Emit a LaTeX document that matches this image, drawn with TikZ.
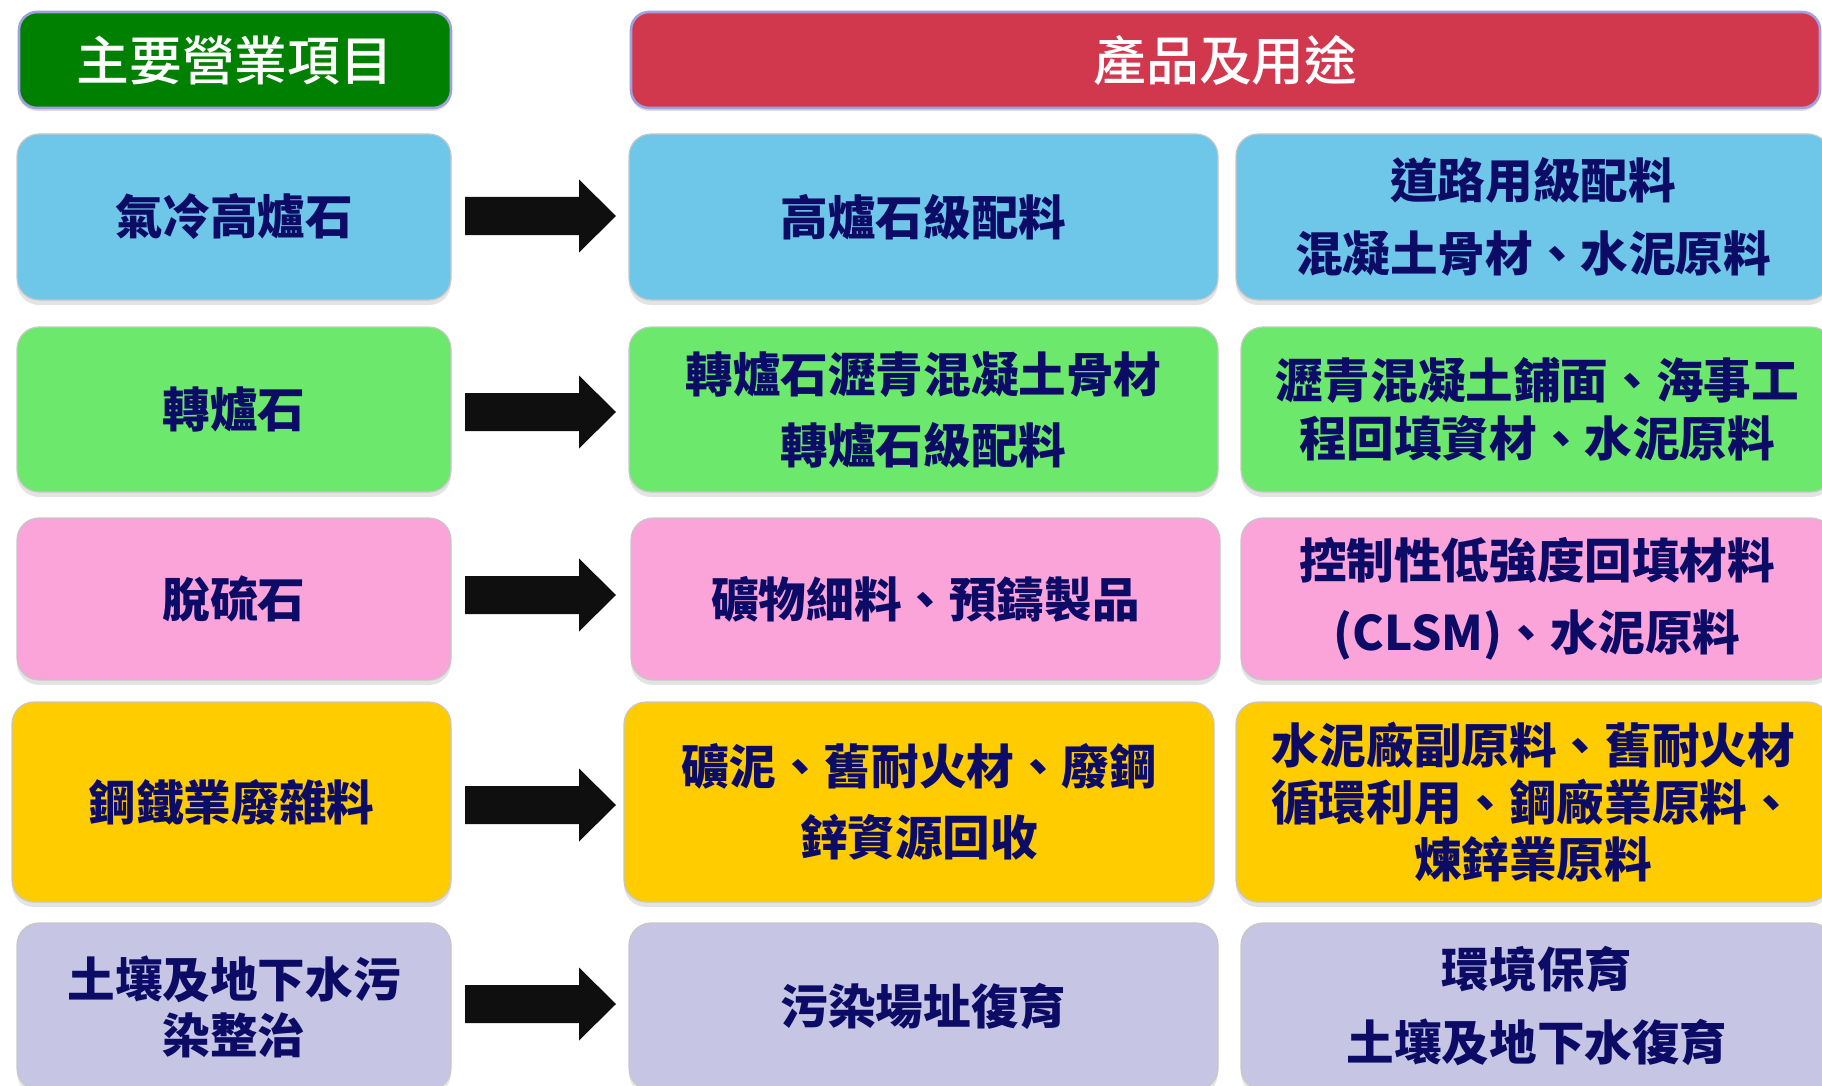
\documentclass[tikz,border=0pt]{standalone}
\usepackage{fontspec}
\newfontfamily\cjk{Noto Sans CJK TC}
\newfontfamily\cjkm{Noto Sans CJK TC Medium}
\usetikzlibrary{shadows,calc}
\definecolor{hgreen}{RGB}{0,128,0}
\definecolor{hred}{RGB}{209,56,78}
\definecolor{hborder}{RGB}{160,160,222}
\definecolor{cblue}{RGB}{110,198,232}
\definecolor{cgreen}{RGB}{108,232,108}
\definecolor{cpink}{RGB}{250,164,218}
\definecolor{cyellow}{RGB}{255,204,0}
\definecolor{clav}{RGB}{198,198,228}
\definecolor{navy}{RGB}{12,12,102}
\definecolor{arrowc}{RGB}{15,15,15}
\newcommand\blockarrow[2]{%
  \fill[arrowc] ($(#1)+(0,-19)$) -- ($(#2)+(-37,-19)$) -- ($(#2)+(-37,-36.5)$) -- (#2)
    -- ($(#2)+(-37,36.5)$) -- ($(#2)+(-37,19)$) -- ($(#1)+(0,19)$) -- cycle;}
\begin{document}
\begin{tikzpicture}[x=0.5pt,y=-0.5pt,
  hdr/.style={rounded corners=9pt, draw=hborder, line width=1.3pt, text=white,
    font={\cjkm\fontsize{26.4pt}{30pt}\selectfont},
    drop shadow={shadow xshift=0pt, shadow yshift=-1.5pt, opacity=0.25}},
  cbox/.style={rounded corners=11pt, draw=black!22, line width=0.6pt, text=navy, align=center,
    inner sep=0pt,
    drop shadow={shadow xshift=0pt, shadow yshift=-2.5pt, opacity=0.22}},
  txt/.style={font={\cjk\bfseries\fontsize{23.8pt}{#1}\selectfont}},
  txt/.default=36pt]
\useasboundingbox (0,0) rectangle (1822,1086);
\clip (0,0) rectangle (1822,1086);
% headers
\node[hdr, fill=hgreen, minimum width=216pt, minimum height=48pt] (h1) at (235,60) {主要營業項目};
\node[hdr, fill=hred, minimum width=594.5pt, minimum height=48pt] (h2) at (1225.5,60) {產品及用途};
% row 1
\node[cbox, txt, fill=cblue, minimum width=217pt, minimum height=83pt] (l1) at (234,217) {氣冷高爐石};
\node[cbox, txt, fill=cblue, minimum width=294.5pt, minimum height=83pt] (m1) at (923.5,217) {高爐石級配料};
\node[cbox, txt=36.5pt, fill=cblue, minimum width=297pt, minimum height=83pt] (r1) at (1533,217) {道路用級配料\\混凝土骨材、水泥原料};
% row 2
\node[cbox, txt, fill=cgreen, minimum width=217pt, minimum height=82.5pt] (l2) at (234,409.5) {轉爐石};
\node[cbox, txt=35.5pt, fill=cgreen, minimum width=294.5pt, minimum height=82.5pt] (m2) at (923.5,409.5) {轉爐石瀝青混凝土骨材\\轉爐石級配料};
\node[cbox, txt=29pt, fill=cgreen, minimum width=296pt, minimum height=82.5pt] (r2) at (1537,409.5) {瀝青混凝土鋪面、海事工\\程回填資材、水泥原料};
% row 3
\node[cbox, txt, fill=cpink, minimum width=217pt, minimum height=81pt] (l3) at (234,599) {脫硫石};
\node[cbox, txt, fill=cpink, minimum width=294.5pt, minimum height=81pt] (m3) at (925.5,599) {礦物細料、預鑄製品};
\node[cbox, txt=36pt, fill=cpink, minimum width=296pt, minimum height=81pt] (r3) at (1537,599) {控制性低強度回填材料\\(CLSM)、水泥原料};
% row 4
\node[cbox, txt, fill=cyellow, minimum width=219.5pt, minimum height=100pt] (l4) at (231.5,802) {鋼鐵業廢雜料};
\node[cbox, txt=35.5pt, fill=cyellow, minimum width=295pt, minimum height=100pt] (m4) at (919,802) {礦泥、舊耐火材、廢鋼\\鋅資源回收};
\node[cbox, txt=28.5pt, fill=cyellow, minimum width=297pt, minimum height=100pt] (r4) at (1533,802) {水泥廠副原料、舊耐火材\\循環利用、鋼廠業原料、\\煉鋅業原料};
% row 5
\node[cbox, txt=28pt, fill=clav, minimum width=217pt, minimum height=83.5pt] (l5) at (234,1006.5) {土壤及地下水污\\染整治};
\node[cbox, txt, fill=clav, minimum width=294.5pt, minimum height=83.5pt] (m5) at (923.5,1006.5) {污染場址復育};
\node[cbox, txt=36.5pt, fill=clav, minimum width=296pt, minimum height=83.5pt] (r5) at (1537,1006.5) {環境保育\\土壤及地下水復育};
% arrows
\coordinate (a1s) at (465,216);  \coordinate (a1e) at (616,216);
\coordinate (a2s) at (465,412);  \coordinate (a2e) at (616,412);
\coordinate (a3s) at (465,595);  \coordinate (a3e) at (616,595);
\coordinate (a4s) at (465,805);  \coordinate (a4e) at (616,805);
\coordinate (a5s) at (465,1004); \coordinate (a5e) at (616,1004);
\blockarrow{a1s}{a1e}
\blockarrow{a2s}{a2e}
\blockarrow{a3s}{a3e}
\blockarrow{a4s}{a4e}
\blockarrow{a5s}{a5e}
\end{tikzpicture}
\end{document}
